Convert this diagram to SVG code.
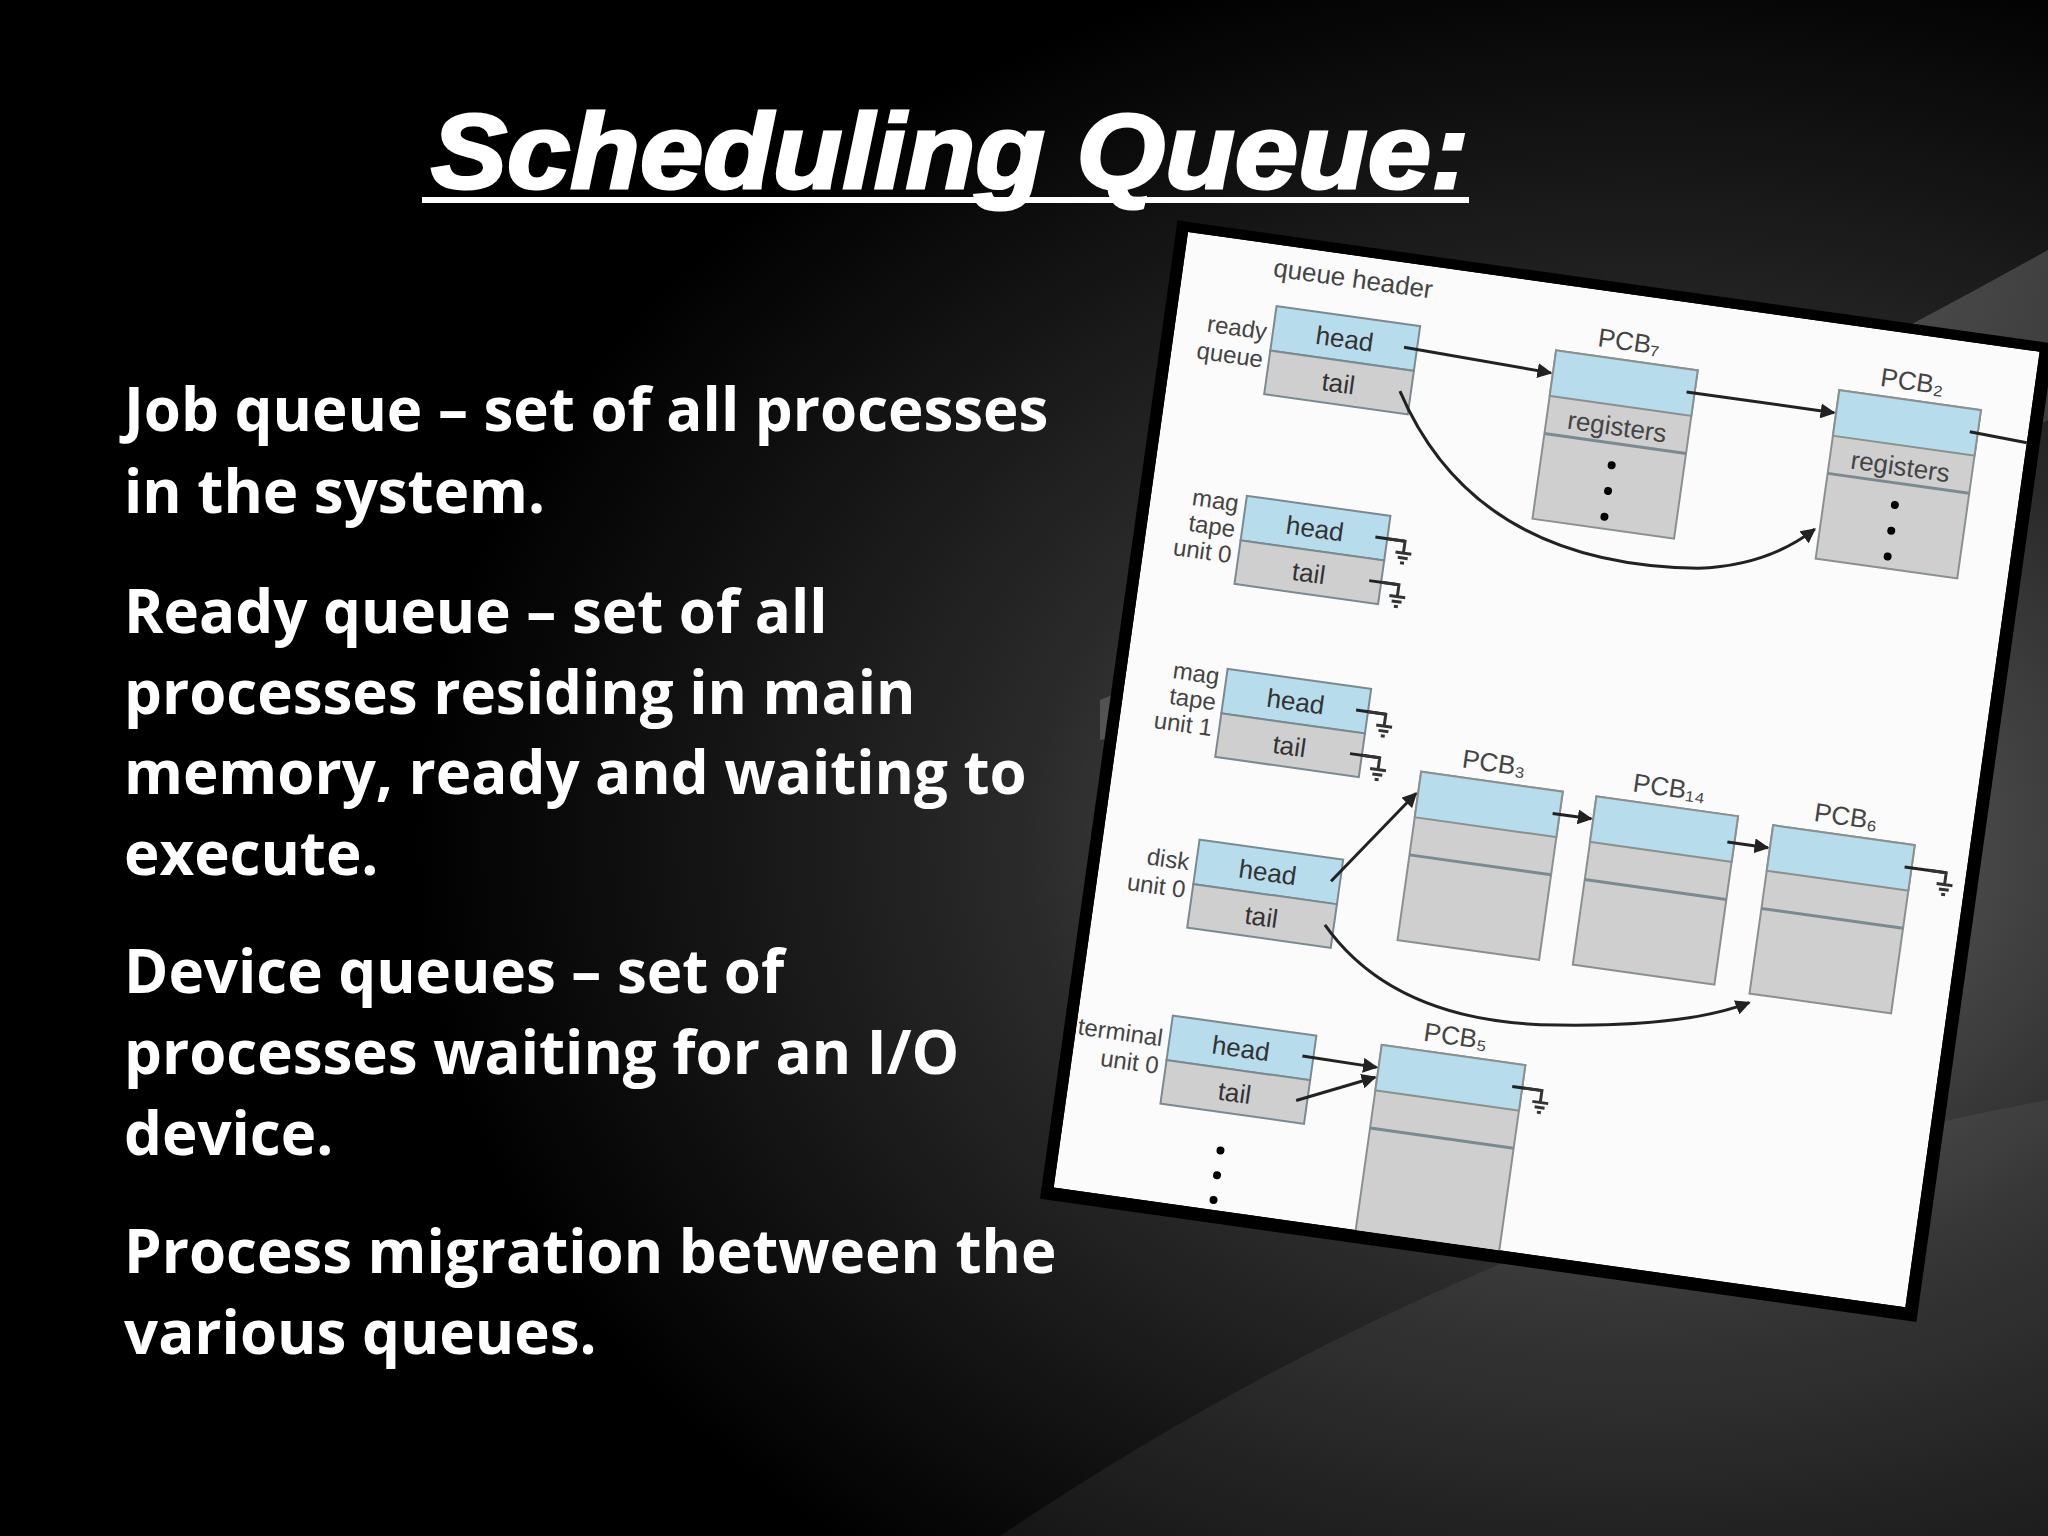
<svg xmlns="http://www.w3.org/2000/svg" width="2048" height="1536" viewBox="0 0 2048 1536">
<defs>
<radialGradient id="g1" cx="0.8" cy="0.55" r="0.6">
<stop offset="0" stop-color="#6a6a6a"/><stop offset="0.5" stop-color="#2a2a2a"/><stop offset="1" stop-color="#000"/>
</radialGradient>
<linearGradient id="g2" x1="0" y1="0" x2="1" y2="1">
<stop offset="0" stop-color="#fff" stop-opacity="0"/><stop offset="0.5" stop-color="#fff" stop-opacity="0.18"/><stop offset="1" stop-color="#fff" stop-opacity="0"/>
</linearGradient>
<marker id="ah" viewBox="0 0 10 10" refX="9" refY="5" markerWidth="5" markerHeight="5" orient="auto"><path d="M0,0L10,5L0,10z" fill="#222"/></marker>
<clipPath id="panel"><rect x="0" y="0" width="860" height="965"/></clipPath>
<g id="gnd"><path d="M0,0h18v12M10,12h16M13,17h10M16,22h4" fill="none" stroke="#333" stroke-width="3"/></g>
<g id="hdr">
<rect x="0" y="0" width="145" height="45" fill="#b7dcec" stroke="#7a8a90" stroke-width="2"/>
<rect x="0" y="45" width="145" height="44" fill="#cfcfcf" stroke="#7a8a90" stroke-width="2"/>
<text x="72" y="32" class="cell">head</text><text x="72" y="77" class="cell">tail</text>
</g>
<g id="pcb">
<rect x="0" y="0" width="143" height="170" fill="#cfcfcf" stroke="#8a9090" stroke-width="2"/>
<rect x="0" y="0" width="143" height="46" fill="#b7dcec" stroke="#8a9090" stroke-width="2"/>
<line x1="0" y1="84" x2="143" y2="84" stroke="#7a8a90" stroke-width="3"/>
</g>
</defs>
<style>
.body{font-family:"Open Sans",sans-serif;font-weight:bold;font-size:60px;fill:#fff}
.cell{font-family:"Liberation Sans",sans-serif;font-size:26px;fill:#333;text-anchor:middle}
.lbl{font-family:"Liberation Sans",sans-serif;font-size:24px;fill:#444;text-anchor:end}
.pl{font-family:"Liberation Sans",sans-serif;font-size:26px;fill:#444;text-anchor:middle}
.ln{fill:none;stroke:#222;stroke-width:3}
</style>
<rect width="2048" height="1536" fill="#000"/>
<rect width="2048" height="1536" fill="url(#g1)"/>
<path d="M1100,700 Q1600,500 2048,250 L2048,420 Q1600,650 1100,740z" fill="url(#g2)"/>
<path d="M1000,1536 Q1500,1200 2048,1100 L2048,1536z" fill="#fff" opacity="0.06"/>
<g id="title">
<text x="431" y="188" font-family="Liberation Sans,sans-serif" font-weight="bold" font-style="italic" font-size="106" fill="#fff" stroke="#fff" stroke-width="3" textLength="1038" lengthAdjust="spacingAndGlyphs">Scheduling Queue:</text>
<rect x="422" y="197" width="1047" height="6" fill="#fff"/>
</g>
<g id="bullets">
<text class="body" x="124" y="431">Job queue – set of all processes</text>
<text class="body" x="124" y="513">in the system.</text>
<text class="body" x="124" y="633">Ready queue – set of all</text>
<text class="body" x="124" y="714">processes residing in main</text>
<text class="body" x="124" y="794">memory, ready and waiting to</text>
<text class="body" x="124" y="875">execute.</text>
<text class="body" x="124" y="993">Device queues – set of</text>
<text class="body" x="124" y="1074">processes waiting for an I/O</text>
<text class="body" x="124" y="1155">device.</text>
<text class="body" x="124" y="1273">Process migration between the</text>
<text class="body" x="124" y="1354">various queues.</text>
</g>
<g transform="translate(1188,232) rotate(8)">
<rect x="-12" y="-10" width="885" height="988" fill="#000"/>
<g clip-path="url(#panel)">
<rect x="0" y="0" width="860" height="965" fill="#fbfbfb"/>
<text x="170" y="32" class="pl" font-size="24">queue header</text>
<g id="ready"><use href="#hdr" x="98" y="61"/><text class="lbl" x="92" y="96">ready</text><text class="lbl" x="92" y="124">queue</text></g>
<g id="pcb7"><use href="#pcb" x="381" y="66"/><text class="pl" x="452" y="56">PCB₇</text><text class="pl" x="452" y="142" font-size="22">registers</text><circle cx="452" cy="172" r="4"/><circle cx="452" cy="198" r="4"/><circle cx="452" cy="224" r="4"/></g>
<g id="pcb2"><use href="#pcb" x="667" y="66"/><text class="pl" x="738" y="56">PCB₂</text><text class="pl" x="738" y="142" font-size="22">registers</text><circle cx="738" cy="172" r="4"/><circle cx="738" cy="198" r="4"/><circle cx="738" cy="224" r="4"/></g>
<g id="tape0"><use href="#hdr" x="95" y="253"/><text class="lbl" x="88" y="270">mag</text><text class="lbl" x="88" y="296">tape</text><text class="lbl" x="88" y="322">unit 0</text></g>
<g id="tape1"><use href="#hdr" x="100" y="427"/><text class="lbl" x="93" y="444">mag</text><text class="lbl" x="93" y="470">tape</text><text class="lbl" x="93" y="496">unit 1</text></g>
<g id="disk"><use href="#hdr" x="96" y="600"/><text class="lbl" x="89" y="632">disk</text><text class="lbl" x="89" y="660">unit 0</text></g>
<g id="pcb3"><use href="#pcb" x="306" y="502"/><text class="pl" x="377" y="492">PCB₃</text></g>
<g id="pcb14"><use href="#pcb" x="483" y="502"/><text class="pl" x="554" y="492">PCB₁₄</text></g>
<g id="pcb6"><use href="#pcb" x="662" y="506"/><text class="pl" x="733" y="496">PCB₆</text></g>
<g id="term"><use href="#hdr" x="94" y="778"/><text class="lbl" x="87" y="810">terminal</text><text class="lbl" x="87" y="838">unit 0</text>
<circle cx="160" cy="905" r="4"/><circle cx="160" cy="930" r="4"/><circle cx="160" cy="955" r="4"/></g>
<g id="pcb5"><rect x="305" y="778" width="145" height="200" fill="#cfcfcf" stroke="#8a9090" stroke-width="2"/><rect x="305" y="778" width="145" height="46" fill="#b7dcec" stroke="#8a9090" stroke-width="2"/><line x1="305" y1="862" x2="450" y2="862" stroke="#7a8a90" stroke-width="3"/><text class="pl" x="377" y="768">PCB₅</text></g>
<g id="connectors">
<path class="ln" d="M230,84 L379,89" marker-end="url(#ah)"/>
<path class="ln" d="M516,89 L665,89" marker-end="url(#ah)"/>
<path class="ln" d="M802,89 L860,92"/>
<path class="ln" d="M232,128 Q330,290 552,262 Q620,250 662,207" marker-end="url(#ah)"/>
<path class="ln" d="M228,276 L258,276"/><use href="#gnd" x="240" y="276"/>
<path class="ln" d="M228,320 L258,320"/><use href="#gnd" x="240" y="320"/>
<path class="ln" d="M233,450 L263,450"/><use href="#gnd" x="245" y="450"/>
<path class="ln" d="M233,494 L263,494"/><use href="#gnd" x="245" y="494"/>
<path class="ln" d="M232,623 L304,524" marker-end="url(#ah)"/>
<path class="ln" d="M442,525 L481,525" marker-end="url(#ah)"/>
<path class="ln" d="M619,529 L660,529" marker-end="url(#ah)"/>
<path class="ln" d="M798,529 L840,529"/><use href="#gnd" x="822" y="529"/>
<path class="ln" d="M232,667 Q310,750 459,736 Q600,720 663,685" marker-end="url(#ah)"/>
<path class="ln" d="M228,800 L303,801" marker-end="url(#ah)"/>
<path class="ln" d="M228,845 L303,811" marker-end="url(#ah)"/>
<path class="ln" d="M440,801 L470,801"/><use href="#gnd" x="452" y="801"/>
</g>
</g>
</g>
</svg>
